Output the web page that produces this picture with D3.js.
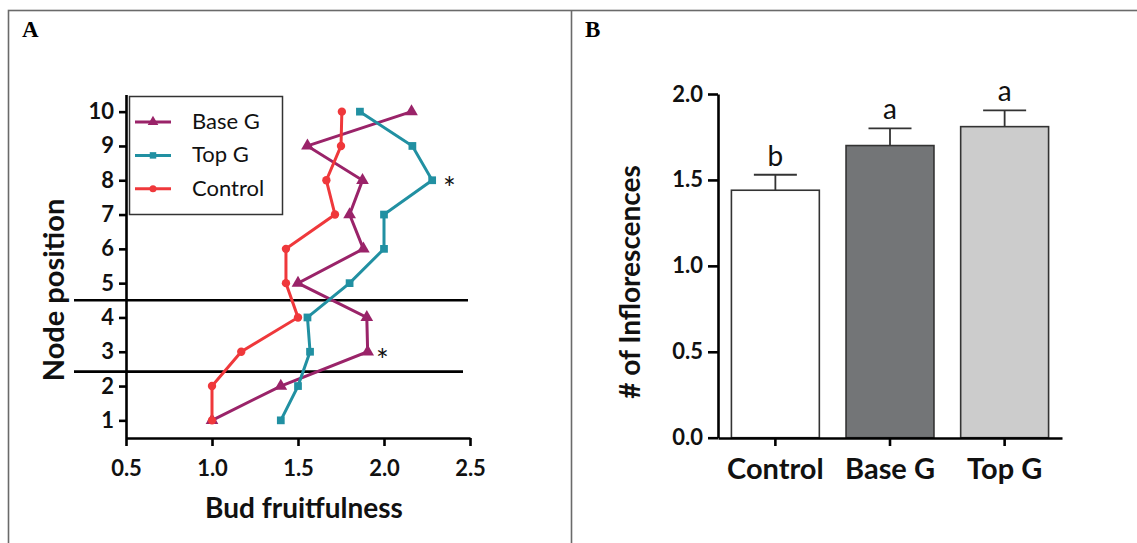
<!DOCTYPE html>
<html lang="en">
<head>
<meta charset="UTF-8">
<style>
  body { margin: 0; background: #fff; }
  svg { display: block; font-family: Lato, "Open Sans", sans-serif; }
  .axis path, .axis line { stroke: #000; stroke-width: 2.6px; }
  .axis .tick text { font-family: Lato, "Open Sans", sans-serif; font-weight: bold; font-size: 22px; fill: #111; }
  .title { font-weight: bold; font-size: 28px; fill: #111; }
  .panel { font-family: "Liberation Serif", "DejaVu Serif", serif; font-weight: bold; font-size: 23px; }
</style>
</head>
<body>
<svg id="fig" width="1137" height="543"></svg>
<script src="https://d3js.org/d3.v7.min.js"></script>
<script>
// panel A: bud fruitfulness by node position
let nodes = [1, 2, 3, 4, 5, 6, 7, 8, 9, 10];
let baseG = [1.00, 1.40, 1.905, 1.90, 1.50, 1.88, 1.80, 1.875, 1.555, 2.16];
let topG = [1.40, 1.50, 1.57, 1.555, 1.80, 2.00, 2.00, 2.28, 2.165, 1.86];
let control = [1.00, 1.00, 1.17, 1.50, 1.43, 1.43, 1.715, 1.665, 1.75, 1.755];
let seriesNames = ["Base G", "Top G", "Control"];
let xTicksA = [0.5, 1.0, 1.5, 2.0, 2.5];
let refLineY = [4.5, 2.42];
let starX = [2.38, 1.99];
let starNode = [8, 3];

// panel B: inflorescences per group
let groups = ["Control", "Base G", "Top G"];
let means = [1.44, 1.70, 1.81];
let sems = [0.09, 0.10, 0.095];
let letters = ["b", "a", "a"];
let yTicksB = [0, 0.5, 1.0, 1.5, 2.0];

let lineColors = { "Base G": "#9a2369", "Top G": "#2190a2", "Control": "#ef383b" };
let barColors = { "Control": "#ffffff", "Base G": "#737577", "Top G": "#cccccc" };

let svg = d3.select("#fig");

// frame
svg.append("rect").attr("x", 8.5).attr("y", 10.5).attr("width", 1140).attr("height", 540)
  .attr("fill", "none").attr("stroke", "#6a6a6a").attr("stroke-width", 1.6);
svg.append("line").attr("x1", 571.5).attr("x2", 571.5).attr("y1", 10).attr("y2", 543)
  .attr("stroke", "#6a6a6a").attr("stroke-width", 1.6);
svg.append("text").attr("class", "panel").attr("x", 22).attr("y", 37).text("A");
svg.append("text").attr("class", "panel").attr("x", 585).attr("y", 37).text("B");

// ---------- panel A ----------
let xA = d3.scaleLinear().domain([0.5, 2.5]).range([126, 470]);
let yA = d3.scaleLinear().domain([0.5, 10.5]).range([437.5, 94.5]);

let gA = svg.append("g");

gA.append("g").attr("class", "axis")
  .attr("transform", "translate(0,438)")
  .call(d3.axisBottom(xA).tickValues(xTicksA).tickFormat(d3.format(".1f"))
    .tickSize(8).tickSizeOuter(0).tickPadding(14));

gA.append("g").attr("class", "axis")
  .attr("transform", "translate(126,0)")
  .call(d3.axisLeft(yA).tickValues(nodes).tickSize(7).tickSizeOuter(0).tickPadding(5));

// reference lines
gA.selectAll(".ref").data(refLineY).enter().append("line")
  .attr("x1", 74).attr("x2", (d, i) => i == 0 ? 468 : 463)
  .attr("y1", d => yA(d)).attr("y2", d => yA(d))
  .attr("stroke", "#000").attr("stroke-width", 2.6);

let seriesData = [baseG, topG, control];
let symbols = [d3.symbolTriangle, d3.symbolSquare, d3.symbolCircle];
let symSizes = [70, 60, 55];

let line = d3.line().x(d => xA(d[0])).y(d => yA(d[1]));

seriesData.forEach((vals, i) => {
  let pts = vals.map((v, j) => [v, nodes[j]]);
  let c = lineColors[seriesNames[i]];
  gA.append("path").datum(pts).attr("d", line)
    .attr("fill", "none").attr("stroke", c).attr("stroke-width", 3);
  gA.selectAll(".pt" + i).data(pts).enter().append("path")
    .attr("transform", d => "translate(" + xA(d[0]) + "," + yA(d[1]) + ")")
    .attr("d", d3.symbol().type(symbols[i]).size(symSizes[i]))
    .attr("fill", c);
});

// asterisks
gA.selectAll(".star").data(starX).enter().append("text")
  .attr("x", d => xA(d)).attr("y", (d, i) => yA(starNode[i]) + 19)
  .attr("text-anchor", "middle").attr("font-size", 30).attr("fill", "#111")
  .text("*");

// legend
let leg = gA.append("g");
leg.append("rect").attr("x", 129.5).attr("y", 96.5).attr("width", 153).attr("height", 118)
  .attr("fill", "#fff").attr("stroke", "#333").attr("stroke-width", 1.5);
seriesNames.forEach((name, i) => {
  let y = 122 + i * 33.4;
  let c = lineColors[name];
  leg.append("line").attr("x1", 135).attr("x2", 171).attr("y1", y).attr("y2", y)
    .attr("stroke", c).attr("stroke-width", 3);
  leg.append("path").attr("transform", "translate(153," + y + ")")
    .attr("d", d3.symbol().type(symbols[i]).size(symSizes[i] * 0.7)).attr("fill", c);
  leg.append("text").attr("x", 192).attr("y", y + 7).attr("font-size", 22)
    .attr("fill", "#111").text(name);
});

gA.append("text").attr("class", "title")
  .attr("x", 304).attr("y", 518).attr("text-anchor", "middle").text("Bud fruitfulness");
gA.append("text").attr("class", "title")
  .attr("transform", "translate(64,290) rotate(-90)")
  .attr("text-anchor", "middle").style("font-size", "29px").text("Node position");

// ---------- panel B ----------
let xB = d3.scaleBand().domain(groups).range([718, 1062]).paddingInner(0.233).paddingOuter(0.117);
let yB = d3.scaleLinear().domain([0, 2]).range([437.7, 94]);

let gB = svg.append("g");

gB.selectAll(".bar").data(groups).enter().append("rect")
  .attr("x", d => xB(d)).attr("width", xB.bandwidth())
  .attr("y", (d, i) => yB(means[i])).attr("height", (d, i) => yB(0) - yB(means[i]))
  .attr("fill", d => barColors[d]).attr("stroke", "#333").attr("stroke-width", 1.6);

// error bars
groups.forEach((g, i) => {
  let cx = xB(g) + xB.bandwidth() / 2;
  let top = yB(means[i] + sems[i]);
  gB.append("line").attr("x1", cx).attr("x2", cx).attr("y1", yB(means[i])).attr("y2", top)
    .attr("stroke", "#333").attr("stroke-width", 1.8);
  gB.append("line").attr("x1", cx - 21.5).attr("x2", cx + 21.5).attr("y1", top).attr("y2", top)
    .attr("stroke", "#333").attr("stroke-width", 1.8);
  gB.append("text").attr("x", cx).attr("y", top - 9).attr("text-anchor", "middle")
    .attr("font-size", 28).attr("fill", "#111").text(letters[i]);
});

gB.append("g").attr("class", "axis")
  .attr("transform", "translate(0,438)")
  .call(d3.axisBottom(xB).tickSize(8).tickSizeOuter(0).tickPadding(12))
  .selectAll("text").style("font-size", "29px");

gB.append("g").attr("class", "axis")
  .attr("transform", "translate(718,0)")
  .call(d3.axisLeft(yB).tickValues(yTicksB).tickFormat(d3.format(".1f"))
    .tickSize(10).tickSizeOuter(0).tickPadding(5));

gB.append("text").attr("class", "title")
  .attr("transform", "translate(640,282) rotate(-90)")
  .attr("text-anchor", "middle").text("# of Inflorescences");
</script>
</body>
</html>
